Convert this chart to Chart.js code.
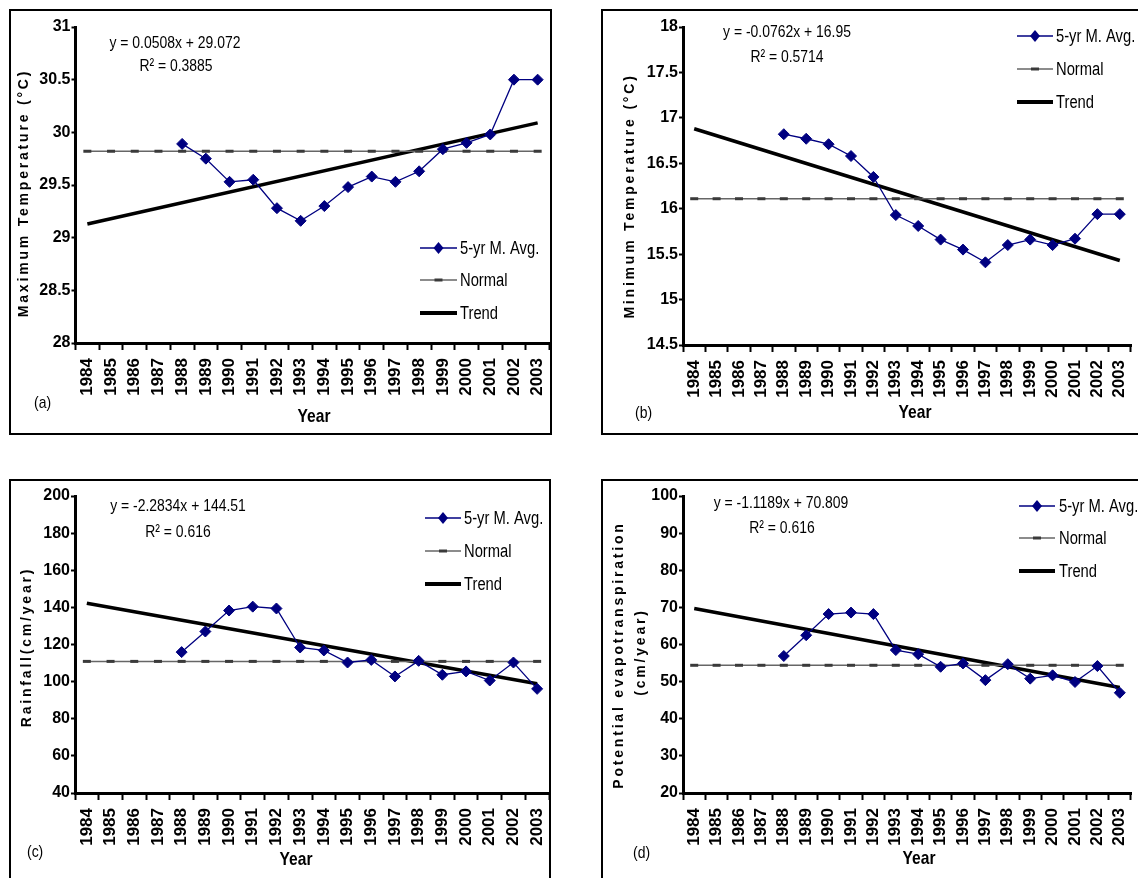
<!DOCTYPE html>
<html>
<head>
<meta charset="utf-8">
<script src="https://cdn.jsdelivr.net/npm/chart.js@4.4.0/dist/chart.umd.min.js"></script>
<style>
  html, body { margin: 0; padding: 0; background: #fff; overflow: hidden; }
  body { width: 1138px; height: 878px; position: relative; }
  .box { position: absolute; border: 2px solid #000; box-sizing: border-box; }
  canvas { position: absolute; }
</style>
</head>
<body>
<script>
const years = ['1984', '1985', '1986', '1987', '1988', '1989', '1990', '1991', '1992', '1993',
               '1994', '1995', '1996', '1997', '1998', '1999', '2000', '2001', '2002', '2003'];
const trendYears = ['1984', '2003'];

// (a) maximum temperature
const maxTempAvg = [null, null, null, null, 29.89, 29.75, 29.53, 29.55, 29.28, 29.16,
                    29.30, 29.48, 29.58, 29.53, 29.63, 29.84, 29.90, 29.98, 30.50, 30.50];
const maxTempNormal = [29.82, 29.82, 29.82, 29.82, 29.82, 29.82, 29.82, 29.82, 29.82, 29.82,
                       29.82, 29.82, 29.82, 29.82, 29.82, 29.82, 29.82, 29.82, 29.82, 29.82];
const maxTempTrend = [29.13, 30.09];

// (b) minimum temperature
const minTempAvg = [null, null, null, null, 16.82, 16.77, 16.71, 16.58, 16.35, 15.93,
                    15.81, 15.66, 15.55, 15.41, 15.60, 15.66, 15.60, 15.67, 15.94, 15.94];
const minTempNormal = [16.11, 16.11, 16.11, 16.11, 16.11, 16.11, 16.11, 16.11, 16.11, 16.11,
                       16.11, 16.11, 16.11, 16.11, 16.11, 16.11, 16.11, 16.11, 16.11, 16.11];
const minTempTrend = [16.88, 15.43];

// (c) rainfall
const rainAvg = [null, null, null, null, 115.9, 127.0, 138.3, 140.4, 139.4, 118.4,
                 116.8, 110.3, 111.7, 102.8, 111.2, 103.7, 105.5, 100.6, 110.3, 96.1];
const rainNormal = [110.9, 110.9, 110.9, 110.9, 110.9, 110.9, 110.9, 110.9, 110.9, 110.9,
                    110.9, 110.9, 110.9, 110.9, 110.9, 110.9, 110.9, 110.9, 110.9, 110.9];
const rainTrend = [142.2, 98.9];

// (d) potential evapotranspiration
const petAvg = [null, null, null, null, 56.9, 62.5, 68.2, 68.6, 68.2, 58.5,
                57.4, 54.0, 54.9, 50.4, 54.7, 50.8, 51.7, 49.9, 54.2, 47.0];
const petNormal = [54.4, 54.4, 54.4, 54.4, 54.4, 54.4, 54.4, 54.4, 54.4, 54.4,
                   54.4, 54.4, 54.4, 54.4, 54.4, 54.4, 54.4, 54.4, 54.4, 54.4];
const petTrend = [69.7, 48.4];

const seriesNames = ['5-yr M. Avg.', 'Normal', 'Trend'];

const SANS = "'Liberation Sans', Arial, sans-serif";
const NAVY = '#000080';

// Arial Narrow is not installed, so squeeze Liberation Sans horizontally
function narrowText(ctx, text, x, y, size, weight, align) {
  ctx.save();
  ctx.font = weight + ' ' + size + 'px ' + SANS;
  ctx.translate(x, y);
  ctx.scale(0.82, 1);
  ctx.textAlign = align;
  ctx.fillText(text, 0, 0);
  ctx.restore();
}

// draws axis titles, equations and legend (page coordinates)
const panelText = {
  id: 'panelText',
  afterDraw(chart, args, o) {
    const ctx = chart.ctx;
    const bx = o.box.x, by = o.box.y;
    ctx.save();
    ctx.fillStyle = '#000';
    ctx.textBaseline = 'middle';
    ctx.textAlign = 'center';

    ctx.font = 'bold 14px ' + SANS;
    ctx.letterSpacing = '2.8px';
    o.yTitle.forEach(t => {
      ctx.save();
      ctx.translate(t.x - bx, t.y - by);
      ctx.rotate(-Math.PI / 2);
      ctx.fillText(t.text, 0, 0);
      ctx.restore();
    });
    ctx.letterSpacing = '0px';

    narrowText(ctx, 'Year', o.year.x - bx, o.year.y - by, 19, 'bold', 'center');
    narrowText(ctx, o.letter.text, o.letter.x - bx, o.letter.y - by, 17, 'normal', 'left');
    narrowText(ctx, o.eq.text, o.eq.x - bx, o.eq.y - by, 17, 'normal', 'center');
    narrowText(ctx, o.r2.text, o.r2.x - bx, o.r2.y - by, 17, 'normal', 'center');

    // legend
    const lg = o.legend;
    const x1 = lg.x1 - bx, x2 = lg.x2 - bx, xm = (x1 + x2) / 2;
    let y = lg.rows[0] - by;
    ctx.strokeStyle = NAVY; ctx.lineWidth = 1.3;
    ctx.beginPath(); ctx.moveTo(x1, y); ctx.lineTo(x2, y); ctx.stroke();
    ctx.fillStyle = NAVY;
    ctx.beginPath(); ctx.moveTo(xm - 5, y); ctx.lineTo(xm, y - 6); ctx.lineTo(xm + 5, y); ctx.lineTo(xm, y + 6); ctx.closePath(); ctx.fill();

    y = lg.rows[1] - by;
    ctx.strokeStyle = '#666'; ctx.lineWidth = 1.5;
    ctx.beginPath(); ctx.moveTo(x1, y); ctx.lineTo(x2, y); ctx.stroke();
    ctx.strokeStyle = '#3a3a3a'; ctx.lineWidth = 3;
    ctx.beginPath(); ctx.moveTo(xm - 4, y); ctx.lineTo(xm + 4, y); ctx.stroke();

    y = lg.rows[2] - by;
    ctx.strokeStyle = '#000'; ctx.lineWidth = 4;
    ctx.beginPath(); ctx.moveTo(x1, y); ctx.lineTo(x2, y); ctx.stroke();

    ctx.fillStyle = '#000';
    seriesNames.forEach((n, i) => narrowText(ctx, n, lg.tx - bx, lg.rows[i] - by + 1, 18, 'normal', 'left'));
    ctx.restore();
  }
};

function makePanel(p) {
  const box = document.createElement('div');
  box.className = 'box';
  box.style.left = p.box.x + 'px';
  box.style.top = p.box.y + 'px';
  box.style.width = p.box.w + 'px';
  box.style.height = p.box.h + 'px';
  document.body.appendChild(box);

  const canvas = document.createElement('canvas');
  canvas.width = p.box.w;
  canvas.height = p.box.h;
  canvas.style.left = p.box.x + 'px';
  canvas.style.top = p.box.y + 'px';
  document.body.appendChild(canvas);

  const a = p.area;
  new Chart(canvas, {
    type: 'line',
    data: {
      labels: years,
      datasets: [
        {
          label: seriesNames[0],
          data: p.avg,
          borderColor: NAVY,
          borderWidth: 1.3,
          pointStyle: 'rectRot',
          pointRadius: 5.5,
          pointBackgroundColor: NAVY,
          pointBorderColor: NAVY,
          pointBorderWidth: 1,
          tension: 0
        },
        {
          label: seriesNames[1],
          data: p.normal,
          borderColor: '#666',
          borderWidth: 1.5,
          pointStyle: 'line',
          pointRadius: 4,
          pointBorderWidth: 3,
          pointBorderColor: '#3a3a3a',
          tension: 0
        },
        {
          label: seriesNames[2],
          data: trendYears.map((yr, i) => ({ x: yr, y: p.trend[i] })),
          borderColor: '#000',
          borderWidth: 3.5,
          pointRadius: 0,
          tension: 0
        }
      ]
    },
    options: {
      responsive: false,
      animation: false,
      devicePixelRatio: 1,
      events: [],
      layout: {
        autoPadding: false,
        padding: { left: 0, top: a.t - p.box.y, right: p.box.x + p.box.w - a.r, bottom: 0 }
      },
      plugins: {
        legend: { display: false },
        tooltip: { enabled: false },
        panelText: p.text
      },
      scales: {
        x: {
          type: 'category',
          offset: true,
          afterFit: s => {
            s.height = p.box.y + p.box.h - a.b;
            s.paddingLeft = 0;
            s.paddingRight = 0;
          },
          grid: { offset: true, drawOnChartArea: false, drawTicks: true, tickLength: 7, tickWidth: 2, color: '#000' },
          border: { color: '#000', width: 3 },
          ticks: {
            autoSkip: false, maxRotation: 90, minRotation: 90, padding: 8, color: '#000',
            font: { family: SANS, size: 17, weight: 'bold' }
          }
        },
        y: {
          min: p.y.min, max: p.y.max,
          afterFit: s => {
            s.width = a.l - p.box.x;
            s.paddingTop = 0;
            s.paddingBottom = 0;
          },
          grid: { drawOnChartArea: false, drawTicks: true, tickLength: 4, tickWidth: 2, color: '#000' },
          border: { color: '#000', width: 3 },
          ticks: {
            stepSize: p.y.step, padding: 1, color: '#000',
            font: { family: SANS, size: 16, weight: 'bold' },
            callback: v => String(Math.round(v * 100) / 100)
          }
        }
      }
    },
    plugins: [panelText]
  });
}

const boxA = { x: 9, y: 9, w: 543, h: 426 };
const boxB = { x: 601, y: 9, w: 545, h: 426 };
const boxC = { x: 9, y: 479, w: 542, h: 405 };
const boxD = { x: 601, y: 479, w: 545, h: 405 };

makePanel({
  box: boxA, area: { l: 75.5, r: 549.5, t: 27, b: 343 },
  avg: maxTempAvg, normal: maxTempNormal, trend: maxTempTrend,
  y: { min: 28, max: 31, step: 0.5 },
  text: {
    box: boxA,
    yTitle: [{ text: 'Maximum Temperature (°C)', x: 24, y: 193 }],
    year: { x: 314, y: 417 },
    letter: { text: '(a)', x: 34, y: 403 },
    eq: { text: 'y = 0.0508x + 29.072', x: 175, y: 43 },
    r2: { text: 'R² = 0.3885', x: 176, y: 66 },
    legend: { x1: 420, x2: 457, tx: 460, rows: [248, 280, 313] }
  }
});

makePanel({
  box: boxB, area: { l: 683, r: 1131, t: 27, b: 345 },
  avg: minTempAvg, normal: minTempNormal, trend: minTempTrend,
  y: { min: 14.5, max: 18, step: 0.5 },
  text: {
    box: boxB,
    yTitle: [{ text: 'Minimum Temperature (°C)', x: 630, y: 196 }],
    year: { x: 915, y: 413 },
    letter: { text: '(b)', x: 635, y: 413 },
    eq: { text: 'y = -0.0762x + 16.95', x: 787, y: 32 },
    r2: { text: 'R² = 0.5714', x: 787, y: 57 },
    legend: { x1: 1017, x2: 1053, tx: 1056, rows: [36, 69, 102] }
  }
});

makePanel({
  box: boxC, area: { l: 75, r: 549, t: 496, b: 793 },
  avg: rainAvg, normal: rainNormal, trend: rainTrend,
  y: { min: 40, max: 200, step: 20 },
  text: {
    box: boxC,
    yTitle: [{ text: 'Rainfall(cm/year)', x: 27, y: 647 }],
    year: { x: 296, y: 860 },
    letter: { text: '(c)', x: 27, y: 852 },
    eq: { text: 'y = -2.2834x + 144.51', x: 178, y: 506 },
    r2: { text: 'R² = 0.616', x: 178, y: 532 },
    legend: { x1: 425, x2: 461, tx: 464, rows: [518, 551, 584] }
  }
});

makePanel({
  box: boxD, area: { l: 683, r: 1131, t: 496, b: 793 },
  avg: petAvg, normal: petNormal, trend: petTrend,
  y: { min: 20, max: 100, step: 10 },
  text: {
    box: boxD,
    yTitle: [
      { text: 'Potential evapotranspiration', x: 619, y: 655 },
      { text: '(cm/year)', x: 641, y: 652 }
    ],
    year: { x: 919, y: 859 },
    letter: { text: '(d)', x: 633, y: 853 },
    eq: { text: 'y = -1.1189x + 70.809', x: 781, y: 503 },
    r2: { text: 'R² = 0.616', x: 782, y: 528 },
    legend: { x1: 1019, x2: 1055, tx: 1059, rows: [506, 538, 571] }
  }
});
</script>
</body>
</html>
